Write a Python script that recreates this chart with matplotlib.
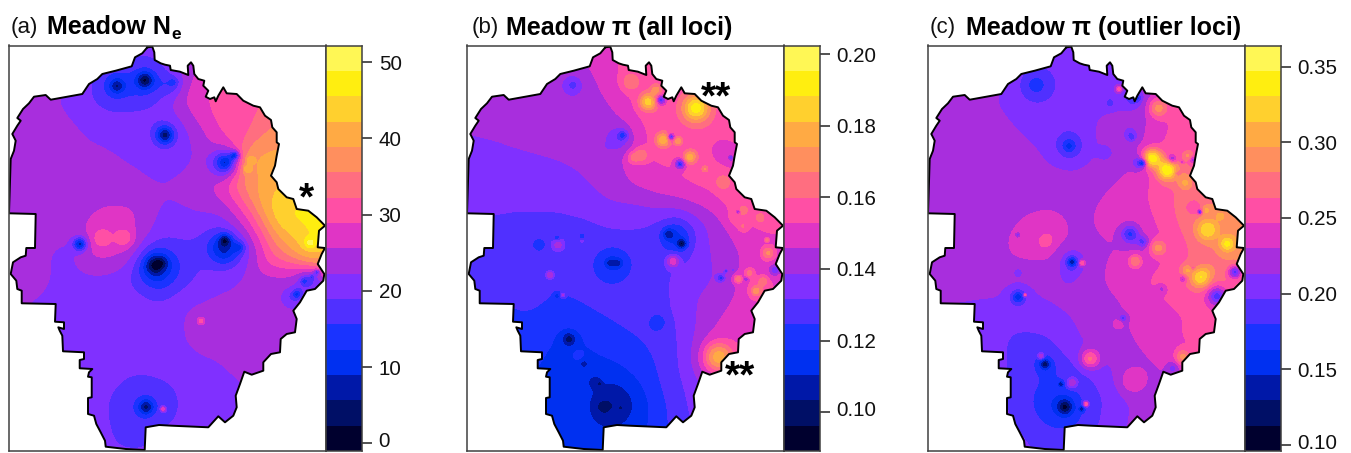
import numpy as np
import matplotlib
matplotlib.use("Agg")
import matplotlib.pyplot as plt
import matplotlib.tri as mtri
from matplotlib.colors import ListedColormap
from matplotlib.patches import Polygon
from matplotlib.transforms import ScaledTranslation

plt.rcParams["font.family"] = ["Liberation Sans", "DejaVu Sans"]

W, H = 1351, 453

BAND_COLORS = ["#00002E", "#000F66", "#0018A8", "#0030F0", "#1A33FF", "#5030FF", "#8030FF", "#A82EDD",
               "#E035C5", "#FF4FA5", "#FF6E80", "#FF8F5E", "#FFAA44", "#FFD02E", "#FFEE10", "#FFF755"]

# park outline, map units
outline = [
    (147.3, 47.3), (152.3, 46.7), (154.3, 52.3), (154.7, 60), (160.7, 63.3), (165, 64.7), (170, 65.7), (170.7, 70),
    (180, 71.7), (188.3, 75), (187.7, 65.7), (191, 62.3), (193.3, 65.7), (194.3, 74), (198.3, 79), (204.3, 80.7),
    (203.3, 85.7), (208.3, 90.7), (205.7, 96.7), (210, 99), (214.3, 97.3), (215.7, 101.3), (218.3, 95.7),
    (223.3, 87.3), (226.7, 93.3), (236.7, 94), (243.3, 100.7), (253.3, 105.7), (260, 107.3), (265, 115.7),
    (271, 120), (272.3, 127.3), (276.7, 132.3), (276.7, 142.3), (279, 144), (276.7, 155.7), (275, 165.7),
    (271, 175.7), (276.7, 182.3), (278.3, 189), (286.7, 197.3), (293.3, 199), (296.7, 209), (308.3, 210.7),
    (316.7, 217.3), (321.7, 222.3), (325, 225.7), (319, 230.7), (317.7, 247.3), (325, 248), (321.7, 254),
    (317.7, 264), (324.3, 274), (323.3, 280.7), (315, 289), (306.7, 290.7), (300, 302.3), (293.3, 310.7),
    (296.7, 319), (295, 332.3), (286.7, 334), (280.7, 339), (280, 352.3), (271, 354), (263.3, 362.3),
    (263.3, 370.7), (251.7, 374.7), (244.3, 371.7), (240, 384), (235.7, 395.7), (236.7, 407.3), (233.3, 415.7),
    (225, 422.3), (218.3, 416.3), (208.3, 427.3), (171.7, 425.7), (159, 425), (145.7, 427.3), (144.7, 450),
    (125.7, 449), (105.7, 446.7), (105, 440.7), (100.7, 432.3), (96.3, 424), (94, 415.7), (88, 414), (88, 398),
    (91.7, 397.3), (91.7, 377.3), (88, 376.7), (89, 372.3), (92.3, 369), (79.7, 368.3), (79.7, 360), (84, 359),
    (84, 352.3), (63, 351.3), (62.3, 335.7), (59.7, 330.7), (58.3, 327.3), (64, 329), (64, 322.3), (55, 321.7),
    (55.7, 304), (21.7, 303.3), (21.7, 290.7), (17.3, 289), (16.3, 280.7), (10.7, 274), (13, 262.3), (20.7, 257.3),
    (25.7, 255.7), (26.3, 248), (35, 248), (35.7, 214), (9, 213.3), (10.7, 159), (14, 150.7), (15.7, 140.7),
    (12.3, 134), (17.3, 125.7), (20.7, 120.7), (17.3, 118), (23, 109), (29, 103.3), (34, 96.7), (45.7, 95),
    (50.7, 99.7), (64, 97.3), (82.3, 94), (89, 84), (97.3, 79), (102.3, 74), (115.7, 70.7), (131.7, 66.3),
    (135, 57.3), (142.3, 53.3),
]

# coarse background readings, rows follow lat_y and columns lat_x
lat_x = [0, 40, 70, 100, 130, 160, 190, 220, 250, 280, 310, 340]
lat_y = [40, 70, 100, 130, 160, 190, 220, 250, 280, 310, 340, 370, 400, 430, 460]

ne_base = [
    [24, 24, 23.5, 21.5, 20, 20, 23, 28, 31, 32, 33, 35],
    [24, 24, 23, 20.5, 20, 20, 24, 29.5, 31, 32, 33, 35],
    [24, 23.5, 21, 20.5, 20, 21, 27.5, 30, 31, 32, 34, 36],
    [24, 24, 23, 21, 20.5, 20, 22, 29.5, 31.5, 37, 39, 39],
    [24, 24, 24, 23.5, 22, 20.5, 21.5, 26, 40, 40, 40, 40],
    [24, 24, 24, 24, 24, 22.5, 24, 26.5, 38, 43, 45, 45],
    [24, 24, 24, 27, 27, 21, 21, 20.5, 28, 46, 47, 44],
    [24, 23, 21, 28, 26, 19, 18, 17, 21.5, 36, 47, 40],
    [24, 23.5, 20.5, 21, 19.5, 15, 18.5, 21, 23, 23.5, 24, 24],
    [24, 21.5, 21, 21, 20.5, 20, 23, 24, 24, 24, 24, 24],
    [20.5, 20.5, 20.5, 20.5, 20.5, 20.5, 22.8, 23.8, 24, 24, 24, 24],
    [20, 20, 20, 20, 20, 20.5, 21, 21.5, 24, 24, 24, 24],
    [20, 20, 20, 20, 18, 18, 20.5, 21, 21.5, 22, 22, 22],
    [20, 20, 20, 20, 18, 20, 20.5, 21, 21, 21, 21, 21],
    [20, 20, 20, 20, 20, 20, 20, 20, 20, 20, 20, 20],
]
# local spots: x, y, value at centre, width; later ones sit on earlier ones
ne_spots = [
    (113, 86, 15.5, 24), (148, 84, 15.5, 22), (172, 85, 17, 12), (117, 86, 13, 13), (146, 80, 13, 14),
    (117, 86, 5, 7), (145, 80, 1.5, 8), (174, 82, 14, 5),
    (165, 135, 14, 12), (165, 135, 4, 8), (225, 163, 14, 14), (226, 162, 9, 7), (235, 155, 11, 5),
    (80, 244, 8, 7), (102, 238, 31.5, 9), (124, 238, 31.5, 9),
    (155, 265, 9, 20), (155, 265, -0.5, 9), (163, 262, 2, 6),
    (225, 248, 8, 16), (225, 240, 1, 6), (240, 247, 11, 6),
    (310, 280, 19, 13), (292, 298, 19, 11), (297, 294, 11, 5), (304, 281, 13, 4), (312, 277, 15, 3), (317, 272, 16, 3),
    (201, 321, 31, 3.5), (145, 405, 16, 30), (146, 407, 4.5, 8), (163, 409, 28, 2.5),
    (250, 160, 42, 4), (247, 169, 42, 4), (310, 243, 50, 5),
]

pi_all_base = [
    [.143, .143, .143, .143, .147, .155, .158, .158, .157, .155, .155, .155],
    [.143, .143, .143, .143, .1455, .153, .156, .157, .157, .157, .157, .157],
    [.143, .143, .143, .142, .1425, .148, .158, .155, .157, .156, .155, .155],
    [.139, .140, .1415, .143, .143, .143, .154, .157, .158, .155, .15, .15],
    [.135, .1365, .1375, .1385, .1405, .1445, .1535, .155, .158, .15, .15, .15],
    [.134, .134, .134, .135, .1375, .1425, .1465, .150, .154, .158, .158, .158],
    [.1315, .1312, .1305, .130, .131, .1335, .1325, .130, .1395, .153, .156, .155],
    [.129, .127, .1265, .127, .1275, .128, .128, .128, .1385, .1455, .150, .150],
    [.127, .126, .126, .125, .1265, .1265, .1275, .1335, .137, .1455, .153, .153],
    [.124, .124, .1255, .1235, .1242, .127, .129, .1325, .1425, .1475, .150, .150],
    [.122, .122, .121, .1165, .118, .1215, .125, .131, .146, .152, .152, .152],
    [.118, .118, .118, .116, .1145, .1155, .122, .1305, .147, .152, .152, .152],
    [.115, .115, .115, .114, .112, .107, .117, .1295, .137, .145, .145, .145],
    [.115, .115, .115, .115, .112, .112, .117, .128, .135, .14, .14, .14],
    [.118, .118, .118, .118, .118, .118, .12, .125, .13, .13, .13, .13],
]
pi_all_spots = [
    (115, 85, .136, 14), (115, 85, .128, 6), (190, 102, .185, 8), (198, 90, .172, 5), (172, 82, .165, 9),
    (203, 100, .128, 5), (238, 108, .192, 13), (205, 140, .18, 7), (213, 137, .128, 3.5), (220, 141, .172, 4),
    (183, 155, .165, 7), (175, 158, .163, 6), (232, 157, .178, 6), (222, 164, .122, 5), (247, 169, .168, 3),
    (265, 182, .167, 7), (263, 150, .147, 11), (273, 158, .13, 3),
    (162, 138, .134, 13), (165, 135, .12, 5), (152, 145, .137, 11), (150, 146, .131, 2.5),
    (279, 217, .16, 8), (285, 227, .16, 5), (286, 210, .166, 4), (280, 212, .14, 2.5), (302, 218, .164, 5),
    (81, 244, .1205, 7), (99, 238, .114, 3), (100, 245, .142, 6), (124, 236, .117, 3), (124, 241, .135, 1.5),
    (219, 237, .116, 16), (210, 234, .104, 6), (224, 244, .095, 5), (215, 261, .15, 6),
    (155, 263, .117, 17), (152, 263, .105, 5), (160, 263, .105, 5), (92, 275, .145, 4), (99, 296, .112, 3),
    (105, 295, .14, 2),
    (200, 322, .118, 8.5), (111, 339, .107, 9), (111, 339, .098, 5), (120, 355, .12, 5), (126, 364, .105, 4),
    (137, 382, .105, 6), (142, 384, .096, 2), (155, 405, .104, 20), (145, 407, .096, 6), (163, 408, .098, 2),
    (263, 278, .121, 4), (268, 271, .122, 2), (275, 270, .13, 2), (291, 273, .162, 5), (280, 279, .165, 4),
    (288, 279, .135, 2.5), (299, 290, .16, 11), (305, 281, .167, 4), (298, 291, .172, 4),
    (310, 253, .168, 6), (317, 270, .132, 6), (260, 357, .178, 14), (309, 240, .166, 1.5),
]

pi_out_base = [
    [.222, .222, .222, .210, .205, .205, .212, .215, .24, .25, .25, .25],
    [.222, .222, .22, .21, .205, .205, .207, .215, .21, .24, .25, .25],
    [.222, .222, .214, .208, .206, .206, .207, .207, .25, .255, .255, .255],
    [.222, .222, .22, .2125, .206, .205, .22, .225, .2475, .255, .255, .26],
    [.222, .222, .222, .222, .2125, .208, .22, .228, .26, .265, .27, .27],
    [.222, .222, .222, .222, .222, .222, .23, .242, .262, .27, .28, .28],
    [.222, .222, .222, .228, .232, .226, .236, .234, .258, .28, .295, .295],
    [.222, .222, .222, .235, .235, .225, .229, .225, .245, .27, .29, .29],
    [.224, .222, .218, .215, .2185, .222, .232, .245, .258, .27, .27, .27],
    [.21, .21, .21, .21, .21, .218, .223, .235, .243, .25, .25, .25],
    [.205, .205, .205, .19, .194, .213, .222, .232, .246, .25, .25, .25],
    [.205, .205, .205, .19, .18, .195, .211, .223, .232, .25, .25, .25],
    [.205, .205, .205, .19, .165, .18, .2, .218, .225, .23, .23, .23],
    [.205, .205, .205, .198, .18, .18, .205, .22, .225, .225, .225, .225],
    [.205, .205, .205, .205, .205, .205, .205, .205, .205, .205, .205, .205],
]
pi_out_spots = [
    (117, 85, .18, 19), (117, 85, .165, 7), (150, 146, .18, 15), (150, 146, .155, 6), (191, 103, .185, 5),
    (214, 98, .18, 8), (219, 98, .17, 4), (200, 89, .255, 3), (239, 108, .285, 9), (212, 135, .193, 7),
    (213, 138, .18, 3), (187, 153, .205, 8), (233, 158, .34, 9), (248, 170, .345, 10), (220, 163, .2, 7),
    (224, 163, .165, 4), (253, 159, .225, 5), (263, 162, .225, 2), (269, 156, .285, 4), (274, 160, .22, 4),
    (258, 173, .27, 3), (266, 175, .275, 4), (266, 183, .30, 7), (276, 208, .25, 8), (281, 212, .165, 2.5),
    (287, 210, .30, 4), (301, 216, .305, 4), (288, 230, .33, 10), (308, 244, .335, 7),
    (211, 234, .175, 9), (224, 242, .19, 6), (239, 248, .285, 8), (216, 261, .28, 6),
    (122, 232, .238, 22), (126, 242, .258, 6), (129, 238, .258, 5), (99, 235, .2, 2),
    (153, 262, .195, 14), (150, 277, .205, 10), (153, 262, .13, 5), (163, 263, .26, 3), (99, 272, .205, 5),
    (99, 297, .19, 11), (99, 297, .15, 6), (106, 295, .25, 1.5), (204, 318, .19, 4), (199, 324, .245, 4),
    (243, 289, .225, 5), (264, 279, .225, 4), (268, 270, .295, 5), (274, 268, .245, 2.5),
    (288, 272, .285, 8), (281, 278, .33, 9), (298, 296, .19, 10), (298, 296, .175, 2.5), (316, 272, .19, 7),
    (171, 359, .265, 9), (213, 381, .243, 13), (264, 357, .285, 7), (254, 368, .205, 6), (122, 356, .235, 3),
    (126, 364, .165, 10), (126, 364, .115, 5), (142, 384, .125, 3), (153, 383, .228, 5),
    (144, 400, .172, 28), (146, 407, .15, 13), (146, 407, .105, 7), (163, 409, .12, 3), (167, 404, .26, 2.5),
]

panels = [
    {"tag": "(a)", "title": "Meadow N", "sub": "e", "base": ne_base, "spots": ne_spots, "left": 9,
     "tag_x": 11, "title_x": 47, "cmin": -1.0, "cmax": 52.2, "ticks": [0, 10, 20, 30, 40, 50], "fmt": "%d"},
    {"tag": "(b)", "title": "Meadow π (all loci)", "sub": None, "base": pi_all_base, "spots": pi_all_spots, "left": 467,
     "tag_x": 472, "title_x": 506, "cmin": .0891, "cmax": .2025,
     "ticks": [.10, .12, .14, .16, .18, .20], "fmt": "%.2f"},
    {"tag": "(c)", "title": "Meadow π (outlier loci)", "sub": None, "base": pi_out_base, "spots": pi_out_spots,
     "left": 928, "tag_x": 930, "title_x": 966, "cmin": .096, "cmax": .3639,
     "ticks": [.10, .15, .20, .25, .30, .35], "fmt": "%.2f"},
]

# star labels: panel, map x, map y, text
stars = [(0, 306, 199, "*"), (1, 258, 98, "**"), (1, 282, 377, "**")]


def smooth(zz, sigma):
    half = int(3 * sigma)
    kernel = np.exp(-0.5 * (np.arange(-half, half + 1) / sigma) ** 2)
    kernel /= kernel.sum()
    padded = np.pad(zz, half, mode="edge")
    padded = np.apply_along_axis(lambda r: np.convolve(r, kernel, mode="same"), 0, padded)
    padded = np.apply_along_axis(lambda r: np.convolve(r, kernel, mode="same"), 1, padded)
    return padded[half:-half, half:-half]


def build_surface(base, spots, xx, yy):
    lx, ly = np.meshgrid(lat_x, lat_y)
    tri = mtri.Triangulation(lx.ravel(), ly.ravel())
    interp = mtri.LinearTriInterpolator(tri, np.array(base, dtype=float).ravel())
    zz = np.ma.filled(interp(xx, yy), np.nan)
    step = xx[0, 1] - xx[0, 0]
    zz = smooth(zz, 9 / step)
    for sx, sy, val, width in spots:
        i = int(round((sy - yy[0, 0]) / step))
        j = int(round((sx - xx[0, 0]) / step))
        bump = np.exp(-((xx - sx) ** 2 + (yy - sy) ** 2) / width ** 2)
        zz = zz + (val - zz[i, j]) * bump
    return zz


def px_axes(fig, left, top, width, height):
    return fig.add_axes([left / W, 1 - (top + height) / H, width / W, height / H])


fig = plt.figure(figsize=(W / 100, H / 100), dpi=100)
xx, yy = np.meshgrid(np.arange(2, 335, 1.0), np.arange(42, 455, 1.0))
ox = [pt[0] for pt in outline] + [outline[0][0]]
oy = [pt[1] for pt in outline] + [outline[0][1]]
edge_col = "#404040"

for p in panels:
    levels = np.linspace(p["cmin"], p["cmax"], len(BAND_COLORS) + 1)
    zz = build_surface(p["base"], p["spots"], xx, yy)

    ax = px_axes(fig, p["left"], 45.5, 317, 405.5)
    cs = ax.contourf(xx, yy, zz, levels=levels, colors=BAND_COLORS, extend="both")
    cs.set_clip_path(Polygon(outline, closed=True, transform=ax.transData))
    ax.plot(ox, oy, color="black", lw=1.4)
    ax.set_xlim(9, 326)
    ax.set_ylim(451, 45.5)
    ax.set_xticks([])
    ax.set_yticks([])
    for s in ax.spines.values():
        s.set_linewidth(1.1)
        s.set_color(edge_col)

    cax = px_axes(fig, p["left"] + 317, 45.5, 36, 405.5)
    cax.pcolormesh([0, 1], levels, np.arange(16).reshape(-1, 1), cmap=ListedColormap(BAND_COLORS))
    cax.set_xticks([])
    cax.yaxis.tick_right()
    cax.set_yticks(p["ticks"])
    tick_labels = cax.set_yticklabels([p["fmt"] % t for t in p["ticks"]], fontsize=14.8, va="center_baseline")
    cax.tick_params(axis="y", length=7, width=1.1, pad=5, color="#222222", labelcolor="#111111")
    # lowest label sits close to the bottom edge, lift it a little
    tick_labels[0].set_transform(tick_labels[0].get_transform() + ScaledTranslation(0, 2.5 / 72, fig.dpi_scale_trans))
    for s in cax.spines.values():
        s.set_linewidth(1.1)
        s.set_color(edge_col)

    fig.text(p["tag_x"] / W, 1 - 33 / H, p["tag"], fontsize=16, color="#111111")
    fig.text(p["title_x"] / W, 1 - 34.5 / H, p["title"], fontsize=18, fontweight="bold", color="black")
    if p["sub"]:
        fig.text((p["title_x"] + 124) / W, 1 - 39 / H, p["sub"], fontsize=12.5, fontweight="bold", color="black")

for idx, sx, sy, label in stars:
    left = panels[idx]["left"]
    fig.text((left + sx - 9) / W, 1 - sy / H, label, fontsize=28, fontweight="bold", ha="center", va="center",
             color="black")

fig.savefig("out.png", dpi=100)
